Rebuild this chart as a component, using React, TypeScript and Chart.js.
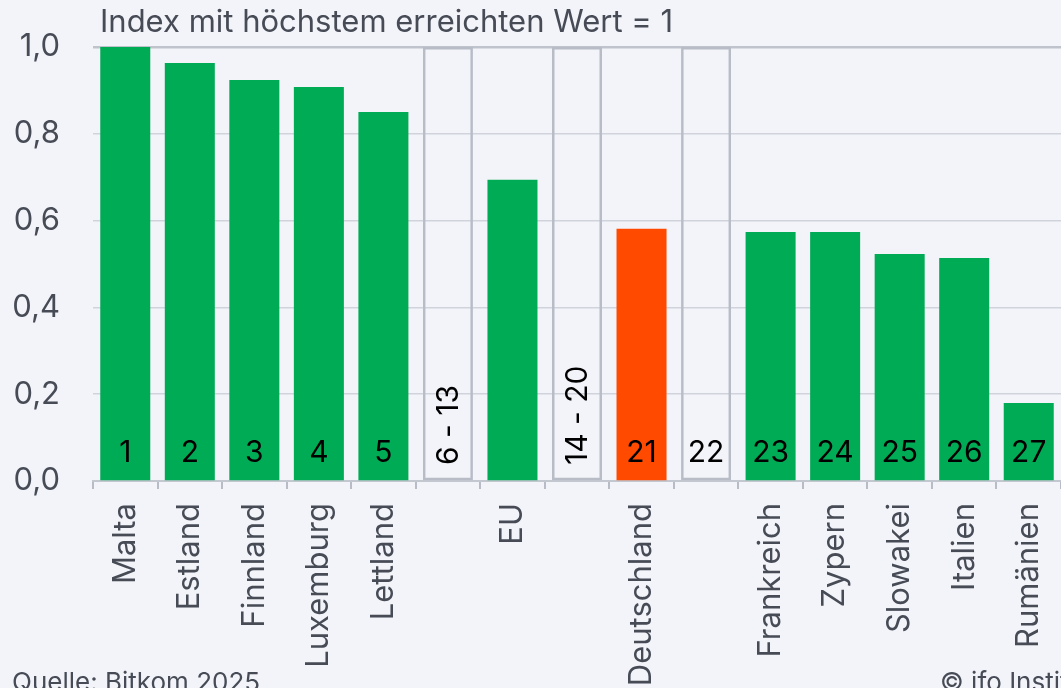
import React, { useEffect, useRef } from "react";
import { Chart, registerables } from "chart.js";

Chart.register(...registerables);

const categories = [
  "Malta", "Estland", "Finnland", "Luxemburg", "Lettland", "", "EU", "",
  "Deutschland", "", "Frankreich", "Zypern", "Slowakei", "Italien", "Rumänien",
];
const values = [1.0, 0.963, 0.924, 0.908, 0.85, 1.0, 0.694, 1.0, 0.581, 1.0, 0.574, 0.574, 0.523, 0.514, 0.18];
const ranks = ["1", "2", "3", "4", "5", "6 - 13", "", "14 - 20", "21", "22", "23", "24", "25", "26", "27"];
const kinds = ["bar", "bar", "bar", "bar", "bar", "box", "bar", "box", "de", "box", "bar", "bar", "bar", "bar", "bar"];
const yTicks = [0, 0.2, 0.4, 0.6, 0.8, 1.0];
const titleText = "Index mit höchstem erreichten Wert = 1";
const sourceText = "Quelle: Bitkom 2025";
const creditText = "© ifo Institut";

const BG = "#f3f4f9";
const GREEN = "#00ab55";
const ORANGE = "#ff4a00";
const GREY = "#b7bcc6";
const TEXT = "#464b56";
const FONT = "Inter, 'Noto Sans', sans-serif";

export default function App() {
  const ref = useRef<HTMLCanvasElement>(null);

  useEffect(() => {
    if (!ref.current) return;
    const labelPlugin = {
      id: "rankLabels",
      afterDatasetsDraw(chart: any) {
        const ctx = chart.ctx;
        const meta = chart.getDatasetMeta(0);
        const y0 = chart.scales.y.getPixelForValue(0);
        ctx.save();
        ctx.fillStyle = "#000";
        ctx.font = `30px ${FONT}`;
        meta.data.forEach((bar: any, i: number) => {
          const t = ranks[i];
          if (!t) return;
          if (t.includes("-")) {
            ctx.save();
            ctx.translate(bar.x, y0 - 16);
            ctx.rotate(-Math.PI / 2);
            ctx.textAlign = "left";
            ctx.textBaseline = "middle";
            ctx.fillText(t, 0, 1);
            ctx.restore();
          } else {
            ctx.textAlign = "center";
            ctx.textBaseline = "middle";
            ctx.fillText(t, bar.x, y0 - 28);
          }
        });
        ctx.restore();
      },
      afterDraw(chart: any) {
        const ctx = chart.ctx;
        ctx.save();
        ctx.fillStyle = TEXT;
        ctx.textAlign = "left";
        ctx.textBaseline = "alphabetic";
        ctx.font = `31px ${FONT}`;
        ctx.fillText(titleText, 100, 32);
        ctx.font = `26px ${FONT}`;
        ctx.fillText(sourceText, 12, 691);
        ctx.fillText(creditText, 940, 691);
        ctx.restore();
      },
    };

    const chart = new Chart(ref.current, {
      type: "bar",
      data: {
        labels: categories,
        datasets: [
          {
            data: values,
            backgroundColor: kinds.map((k) => (k === "box" ? "rgba(0,0,0,0)" : k === "de" ? ORANGE : GREEN)),
            borderColor: kinds.map((k) => (k === "box" ? GREY : "rgba(0,0,0,0)")),
            borderWidth: kinds.map((k) => (k === "box" ? 2.5 : 0)),
            borderSkipped: false,
            barPercentage: 0.775,
            categoryPercentage: 1,
          },
        ],
      },
      options: {
        animation: false,
        responsive: true,
        maintainAspectRatio: false,
        layout: { padding: { top: 47, left: 0, right: 0, bottom: 0 } },
        plugins: { legend: { display: false }, tooltip: { enabled: false }, title: { display: false } },
        scales: {
          x: {
            offset: true,
            grid: {
              offset: true,
              drawOnChartArea: false,
              drawTicks: true,
              tickLength: 8,
              color: GREY,
              lineWidth: 2,
            },
            border: { display: true, color: "#c3c7cf", width: 2 },
            ticks: {
              autoSkip: false,
              minRotation: 90,
              maxRotation: 90,
              padding: 14,
              color: TEXT,
              font: { family: FONT, size: 31 },
            },
            afterFit(scale: any) {
              scale.height = 207;
              scale.paddingLeft = 0;
              scale.paddingRight = 0;
            },
          },
          y: {
            min: 0,
            max: 1,
            afterBuildTicks(scale: any) {
              scale.ticks = yTicks.map((v) => ({ value: v }));
            },
            grid: {
              drawTicks: false,
              color: (c: any) => (c.tick && c.tick.value === 1 ? "#bfc4cc" : "#d0d3db"),
              lineWidth: (c: any) => (c.tick && c.tick.value === 1 ? 2.5 : 1.5),
            },
            border: { display: false },
            ticks: {
              padding: 33,
              color: TEXT,
              font: { family: FONT, size: 31 },
              callback: (v: any) => Number(v).toFixed(1).replace(".", ","),
            },
            afterFit(scale: any) {
              scale.width = 93;
              scale.paddingTop = 0;
              scale.paddingBottom = 0;
            },
          },
        },
      },
      plugins: [labelPlugin],
    });
    return () => chart.destroy();
  }, []);

  return (
    <div style={{ position: "absolute", left: 0, top: 0, width: 1061, height: 688, background: BG, overflow: "hidden" }}>
      <canvas ref={ref} />
    </div>
  );
}
